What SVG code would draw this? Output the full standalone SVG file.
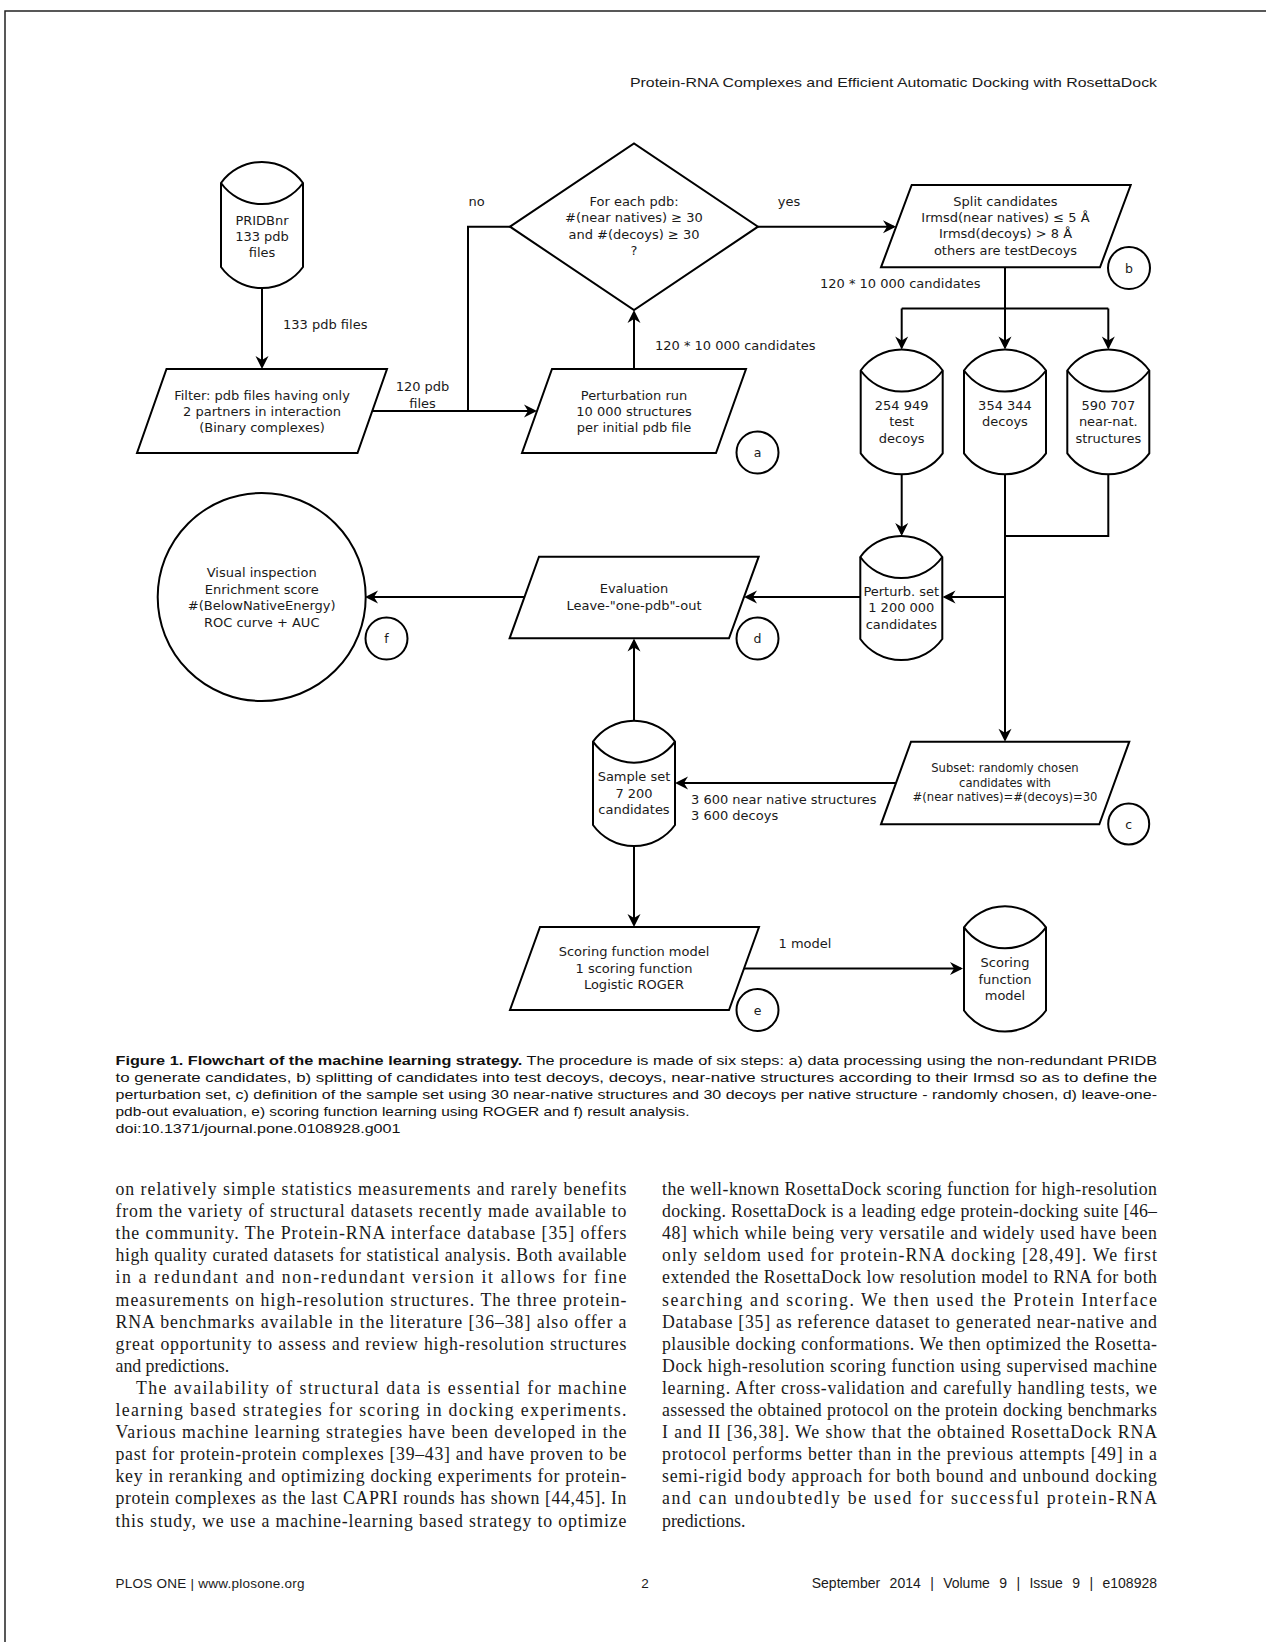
<svg xmlns="http://www.w3.org/2000/svg" width="1266" height="1642" viewBox="0 0 1266 1642">
<defs>
<marker id="ah" markerUnits="userSpaceOnUse" markerWidth="16" markerHeight="16" viewBox="-12 -8 16 16" refX="0" refY="0" orient="auto">
<path d="M2,0 L-11,-6.5 L-7,0 L-11,6.5 Z" fill="#000"/>
</marker>
</defs>
<style>
.s{fill:#fff;stroke:#000;stroke-width:2;stroke-linejoin:miter}
.c{fill:none;stroke:#000;stroke-width:2}
.t{font-family:"DejaVu Sans",sans-serif;font-size:13px;fill:#1a1a1a;text-anchor:middle}
.l{font-family:"DejaVu Sans",sans-serif;font-size:13px;fill:#1a1a1a}
.sm{font-family:"DejaVu Sans",sans-serif;font-size:11.6px;fill:#1a1a1a;text-anchor:middle}
.k{font-family:"DejaVu Sans",sans-serif;font-size:12.5px;fill:#1a1a1a;text-anchor:middle}
.cap{font-family:"Liberation Sans",Arial,sans-serif;font-size:13.3px;fill:#111}
.b{font-family:"Liberation Serif","Times New Roman",serif;font-size:17.8px;fill:#1a1a1a}
.hf{font-family:"Liberation Sans",Arial,sans-serif;font-size:13.5px;fill:#1a1a1a}
</style>
<rect width="1266" height="1642" fill="#fff"/>
<path d="M5,1642 V11 H1266" fill="none" stroke="#222" stroke-width="1.5"/>
<text class="hf" x="1157" y="87" text-anchor="end" textLength="527" lengthAdjust="spacingAndGlyphs">Protein-RNA Complexes and Efficient Automatic Docking with RosettaDock</text>

<g id="connectors">
<path class="c" d="M262,287 V367" marker-end="url(#ah)"/>
<path class="c" d="M372,411 H535" marker-end="url(#ah)"/>
<path class="c" d="M468,411 V226.7 H510"/>
<path class="c" d="M634,369 V312" marker-end="url(#ah)"/>
<path class="c" d="M758,226.7 H894" marker-end="url(#ah)"/>
<path class="c" d="M1005,267.3 V308.5"/>
<path class="c" d="M901.7,308.5 H1108.3"/>
<path class="c" d="M901.7,308.5 V347.5" marker-end="url(#ah)"/>
<path class="c" d="M1005,308.5 V347.5" marker-end="url(#ah)"/>
<path class="c" d="M1108.3,308.5 V347.5" marker-end="url(#ah)"/>
<path class="c" d="M901.7,473.5 V534" marker-end="url(#ah)"/>
<path class="c" d="M1005,473.5 V739.7" marker-end="url(#ah)"/>
<path class="c" d="M1108.3,473.5 V536 H1005"/>
<path class="c" d="M1005,597 H944.5" marker-end="url(#ah)"/>
<path class="c" d="M860.3,597 H746" marker-end="url(#ah)"/>
<path class="c" d="M524.3,597 H367" marker-end="url(#ah)"/>
<path class="c" d="M634,721.7 V640.5" marker-end="url(#ah)"/>
<path class="c" d="M896,783 H677" marker-end="url(#ah)"/>
<path class="c" d="M634,845 V925" marker-end="url(#ah)"/>
<path class="c" d="M744,968.5 H961" marker-end="url(#ah)"/>
<text class="l" x="283" y="328.5">133 pdb files</text>
<text class="t" x="422.5" y="390.5">120 pdb</text>
<text class="t" x="422.5" y="407.5">files</text>
<text class="t" x="476.6" y="205.5">no</text>
<text class="t" x="789" y="205.5">yes</text>
<text class="l" x="655" y="350">120 * 10 000 candidates</text>
<text class="l" x="820" y="288">120 * 10 000 candidates</text>
<text class="l" x="691" y="803.5">3 600 near native structures</text>
<text class="l" x="691" y="820">3 600 decoys</text>
<text class="t" x="805" y="947.5">1 model</text>
</g>

<g id="pridbnr">
<path class="s" d="M221,183 A50.5,50.5 0 0 1 303,183 V267 A50.5,50.5 0 0 1 221,267 Z"/>
<path class="c" d="M221,183 A50.5,50.5 0 0 0 303,183"/>
<text class="t" x="262" y="224.5">PRIDBnr</text>
<text class="t" x="262" y="240.5">133 pdb</text>
<text class="t" x="262" y="256.5">files</text>
</g>

<g id="filter">
<path class="s" d="M166.5,369 H387 L357.5,453 H137 Z"/>
<text class="t" x="262" y="399.5">Filter: pdb files having only</text>
<text class="t" x="262" y="415.5">2 partners in interaction</text>
<text class="t" x="262" y="432">(Binary complexes)</text>
</g>

<g id="decision">
<path class="s" d="M510,226.7 L634,143.4 L758,226.7 L634,310 Z"/>
<text class="t" x="634" y="205.5">For each pdb:</text>
<text class="t" x="634" y="222">#(near natives) ≥ 30</text>
<text class="t" x="634" y="238.5">and #(decoys) ≥ 30</text>
<text class="t" x="634" y="255">?</text>
</g>

<g id="perturbation">
<path class="s" d="M552,369 H746 L716,453 H522 Z"/>
<text class="t" x="634" y="399.5">Perturbation run</text>
<text class="t" x="634" y="415.5">10 000 structures</text>
<text class="t" x="634" y="432">per initial pdb file</text>
</g>
<g id="label-a"><circle class="s" cx="757.5" cy="452.5" r="21"/><text class="k" x="757.5" y="457">a</text></g>

<g id="split">
<path class="s" d="M911.7,185 H1130.7 L1100,267.3 H881 Z"/>
<text class="t" x="1005.5" y="205.5">Split candidates</text>
<text class="t" x="1005.5" y="222">Irmsd(near natives) ≤ 5 Å</text>
<text class="t" x="1005.5" y="238">Irmsd(decoys) &gt; 8 Å</text>
<text class="t" x="1005.5" y="254.5">others are testDecoys</text>
</g>
<g id="label-b"><circle class="s" cx="1129" cy="268" r="21"/><text class="k" x="1129" y="272.5">b</text></g>

<g id="testdecoys">
<path class="s" d="M860.7,370.5 A50.5,50.5 0 0 1 942.7,370.5 V453.3 A50.5,50.5 0 0 1 860.7,453.3 Z"/>
<path class="c" d="M860.7,370.5 A50.5,50.5 0 0 0 942.7,370.5"/>
<text class="t" x="901.7" y="409.5">254 949</text>
<text class="t" x="901.7" y="426">test</text>
<text class="t" x="901.7" y="442.5">decoys</text>
</g>
<g id="decoys">
<path class="s" d="M964,370.5 A50.5,50.5 0 0 1 1046,370.5 V453.3 A50.5,50.5 0 0 1 964,453.3 Z"/>
<path class="c" d="M964,370.5 A50.5,50.5 0 0 0 1046,370.5"/>
<text class="t" x="1005" y="409.5">354 344</text>
<text class="t" x="1005" y="426">decoys</text>
</g>
<g id="nearnat">
<path class="s" d="M1067.3,370.5 A50.5,50.5 0 0 1 1149.3,370.5 V453.3 A50.5,50.5 0 0 1 1067.3,453.3 Z"/>
<path class="c" d="M1067.3,370.5 A50.5,50.5 0 0 0 1149.3,370.5"/>
<text class="t" x="1108.3" y="409.5">590 707</text>
<text class="t" x="1108.3" y="426">near-nat.</text>
<text class="t" x="1108.3" y="442.5">structures</text>
</g>

<g id="perturbset">
<path class="s" d="M860.3,557 A50.5,50.5 0 0 1 942.3,557 V639 A50.5,50.5 0 0 1 860.3,639 Z"/>
<path class="c" d="M860.3,557 A50.5,50.5 0 0 0 942.3,557"/>
<text class="t" x="901.3" y="595.5">Perturb. set</text>
<text class="t" x="901.3" y="612">1 200 000</text>
<text class="t" x="901.3" y="628.5">candidates</text>
</g>

<g id="evaluation">
<path class="s" d="M539,556.7 H758.7 L729,638.3 H509.6 Z"/>
<text class="t" x="634" y="592.5">Evaluation</text>
<text class="t" x="634" y="610">Leave-"one-pdb"-out</text>
</g>
<g id="label-d"><circle class="s" cx="757.5" cy="638.5" r="21"/><text class="k" x="757.5" y="643">d</text></g>

<g id="results">
<circle class="s" cx="261.7" cy="597" r="104"/>
<text class="t" x="261.7" y="576.5">Visual inspection</text>
<text class="t" x="261.7" y="593.5">Enrichment score</text>
<text class="t" x="261.7" y="610">#(BelowNativeEnergy)</text>
<text class="t" x="261.7" y="626.5">ROC curve + AUC</text>
</g>
<g id="label-f"><circle class="s" cx="386.5" cy="638.5" r="21"/><text class="k" x="386.5" y="643">f</text></g>

<g id="sampleset">
<path class="s" d="M593,741.7 A50.5,50.5 0 0 1 675,741.7 V825 A50.5,50.5 0 0 1 593,825 Z"/>
<path class="c" d="M593,741.7 A50.5,50.5 0 0 0 675,741.7"/>
<text class="t" x="634" y="781">Sample set</text>
<text class="t" x="634" y="797.5">7 200</text>
<text class="t" x="634" y="814">candidates</text>
</g>

<g id="subset">
<path class="s" d="M911,741.7 H1129.3 L1099.3,824.3 H881 Z"/>
<text class="sm" x="1005" y="772.3">Subset: randomly chosen</text>
<text class="sm" x="1005" y="786.7">candidates with</text>
<text class="sm" x="1005" y="801.3">#(near natives)=#(decoys)=30</text>
</g>
<g id="label-c"><circle class="s" cx="1128.7" cy="824" r="20.5"/><text class="k" x="1128.7" y="828.5">c</text></g>

<g id="scoring">
<path class="s" d="M540,927 H759 L729,1010 H510 Z"/>
<text class="t" x="634" y="956">Scoring function model</text>
<text class="t" x="634" y="972.5">1 scoring function</text>
<text class="t" x="634" y="989">Logistic ROGER</text>
</g>
<g id="label-e"><circle class="s" cx="757.5" cy="1010" r="21"/><text class="k" x="757.5" y="1014.5">e</text></g>

<g id="scoringmodel">
<path class="s" d="M964,927.3 A50.5,50.5 0 0 1 1046,927.3 V1010.5 A50.5,50.5 0 0 1 964,1010.5 Z"/>
<path class="c" d="M964,927.3 A50.5,50.5 0 0 0 1046,927.3"/>
<text class="t" x="1005" y="967">Scoring</text>
<text class="t" x="1005" y="983.5">function</text>
<text class="t" x="1005" y="1000">model</text>
</g>

<g id="caption" class="cap">
<text x="115.5" y="1064.5" textLength="1041.5" lengthAdjust="spacingAndGlyphs"><tspan font-weight="bold">Figure 1. Flowchart of the machine learning strategy.</tspan> The procedure is made of six steps: a) data processing using the non-redundant PRIDB</text>
<text x="115.5" y="1081.7" textLength="1041.5" lengthAdjust="spacingAndGlyphs">to generate candidates, b) splitting of candidates into test decoys, decoys, near-native structures according to their Irmsd so as to define the</text>
<text x="115.5" y="1098.9" textLength="1041.5" lengthAdjust="spacingAndGlyphs">perturbation set, c) definition of the sample set using 30 near-native structures and 30 decoys per native structure - randomly chosen, d) leave-one-</text>
<text x="115.5" y="1116.1" textLength="574" lengthAdjust="spacingAndGlyphs">pdb-out evaluation, e) scoring function learning using ROGER and f) result analysis.</text>
<text x="115.5" y="1133.3" textLength="285" lengthAdjust="spacingAndGlyphs">doi:10.1371/journal.pone.0108928.g001</text>
</g>

<g id="body-left" class="b">
<text x="115.5" y="1195" textLength="511" lengthAdjust="spacing">on relatively simple statistics measurements and rarely benefits</text>
<text x="115.5" y="1217.1" textLength="511" lengthAdjust="spacing">from the variety of structural datasets recently made available to</text>
<text x="115.5" y="1239.2" textLength="511" lengthAdjust="spacing">the community. The Protein-RNA interface database [35] offers</text>
<text x="115.5" y="1261.3" textLength="511" lengthAdjust="spacing">high quality curated datasets for statistical analysis. Both available</text>
<text x="115.5" y="1283.4" textLength="511" lengthAdjust="spacing">in a redundant and non-redundant version it allows for fine</text>
<text x="115.5" y="1305.5" textLength="511" lengthAdjust="spacing">measurements on high-resolution structures. The three protein-</text>
<text x="115.5" y="1327.6" textLength="511" lengthAdjust="spacing">RNA benchmarks available in the literature [36–38] also offer a</text>
<text x="115.5" y="1349.7" textLength="511" lengthAdjust="spacing">great opportunity to assess and review high-resolution structures</text>
<text x="115.5" y="1371.8">and predictions.</text>
<text x="136" y="1393.9" textLength="490.5" lengthAdjust="spacing">The availability of structural data is essential for machine</text>
<text x="115.5" y="1416" textLength="511" lengthAdjust="spacing">learning based strategies for scoring in docking experiments.</text>
<text x="115.5" y="1438.1" textLength="511" lengthAdjust="spacing">Various machine learning strategies have been developed in the</text>
<text x="115.5" y="1460.2" textLength="511" lengthAdjust="spacing">past for protein-protein complexes [39–43] and have proven to be</text>
<text x="115.5" y="1482.3" textLength="511" lengthAdjust="spacing">key in reranking and optimizing docking experiments for protein-</text>
<text x="115.5" y="1504.4" textLength="511" lengthAdjust="spacing">protein complexes as the last CAPRI rounds has shown [44,45]. In</text>
<text x="115.5" y="1526.5" textLength="511" lengthAdjust="spacing">this study, we use a machine-learning based strategy to optimize</text>
</g>

<g id="body-right" class="b">
<text x="662" y="1195" textLength="495" lengthAdjust="spacing">the well-known RosettaDock scoring function for high-resolution</text>
<text x="662" y="1217.1" textLength="495" lengthAdjust="spacing">docking. RosettaDock is a leading edge protein-docking suite [46–</text>
<text x="662" y="1239.2" textLength="495" lengthAdjust="spacing">48] which while being very versatile and widely used have been</text>
<text x="662" y="1261.3" textLength="495" lengthAdjust="spacing">only seldom used for protein-RNA docking [28,49]. We first</text>
<text x="662" y="1283.4" textLength="495" lengthAdjust="spacing">extended the RosettaDock low resolution model to RNA for both</text>
<text x="662" y="1305.5" textLength="495" lengthAdjust="spacing">searching and scoring. We then used the Protein Interface</text>
<text x="662" y="1327.6" textLength="495" lengthAdjust="spacing">Database [35] as reference dataset to generated near-native and</text>
<text x="662" y="1349.7" textLength="495" lengthAdjust="spacing">plausible docking conformations. We then optimized the Rosetta-</text>
<text x="662" y="1371.8" textLength="495" lengthAdjust="spacing">Dock high-resolution scoring function using supervised machine</text>
<text x="662" y="1393.9" textLength="495" lengthAdjust="spacing">learning. After cross-validation and carefully handling tests, we</text>
<text x="662" y="1416" textLength="495" lengthAdjust="spacing">assessed the obtained protocol on the protein docking benchmarks</text>
<text x="662" y="1438.1" textLength="495" lengthAdjust="spacing">I and II [36,38]. We show that the obtained RosettaDock RNA</text>
<text x="662" y="1460.2" textLength="495" lengthAdjust="spacing">protocol performs better than in the previous attempts [49] in a</text>
<text x="662" y="1482.3" textLength="495" lengthAdjust="spacing">semi-rigid body approach for both bound and unbound docking</text>
<text x="662" y="1504.4" textLength="495" lengthAdjust="spacing">and can undoubtedly be used for successful protein-RNA</text>
<text x="662" y="1526.5">predictions.</text>
</g>

<g id="footer" class="hf">
<text x="115.5" y="1588" textLength="189" lengthAdjust="spacing">PLOS ONE | www.plosone.org</text>
<text x="645" y="1588" text-anchor="middle">2</text>
<text x="1157" y="1588" text-anchor="end" font-size="14" word-spacing="5.5">September 2014 | Volume 9 | Issue 9 | e108928</text>
</g>
</svg>
